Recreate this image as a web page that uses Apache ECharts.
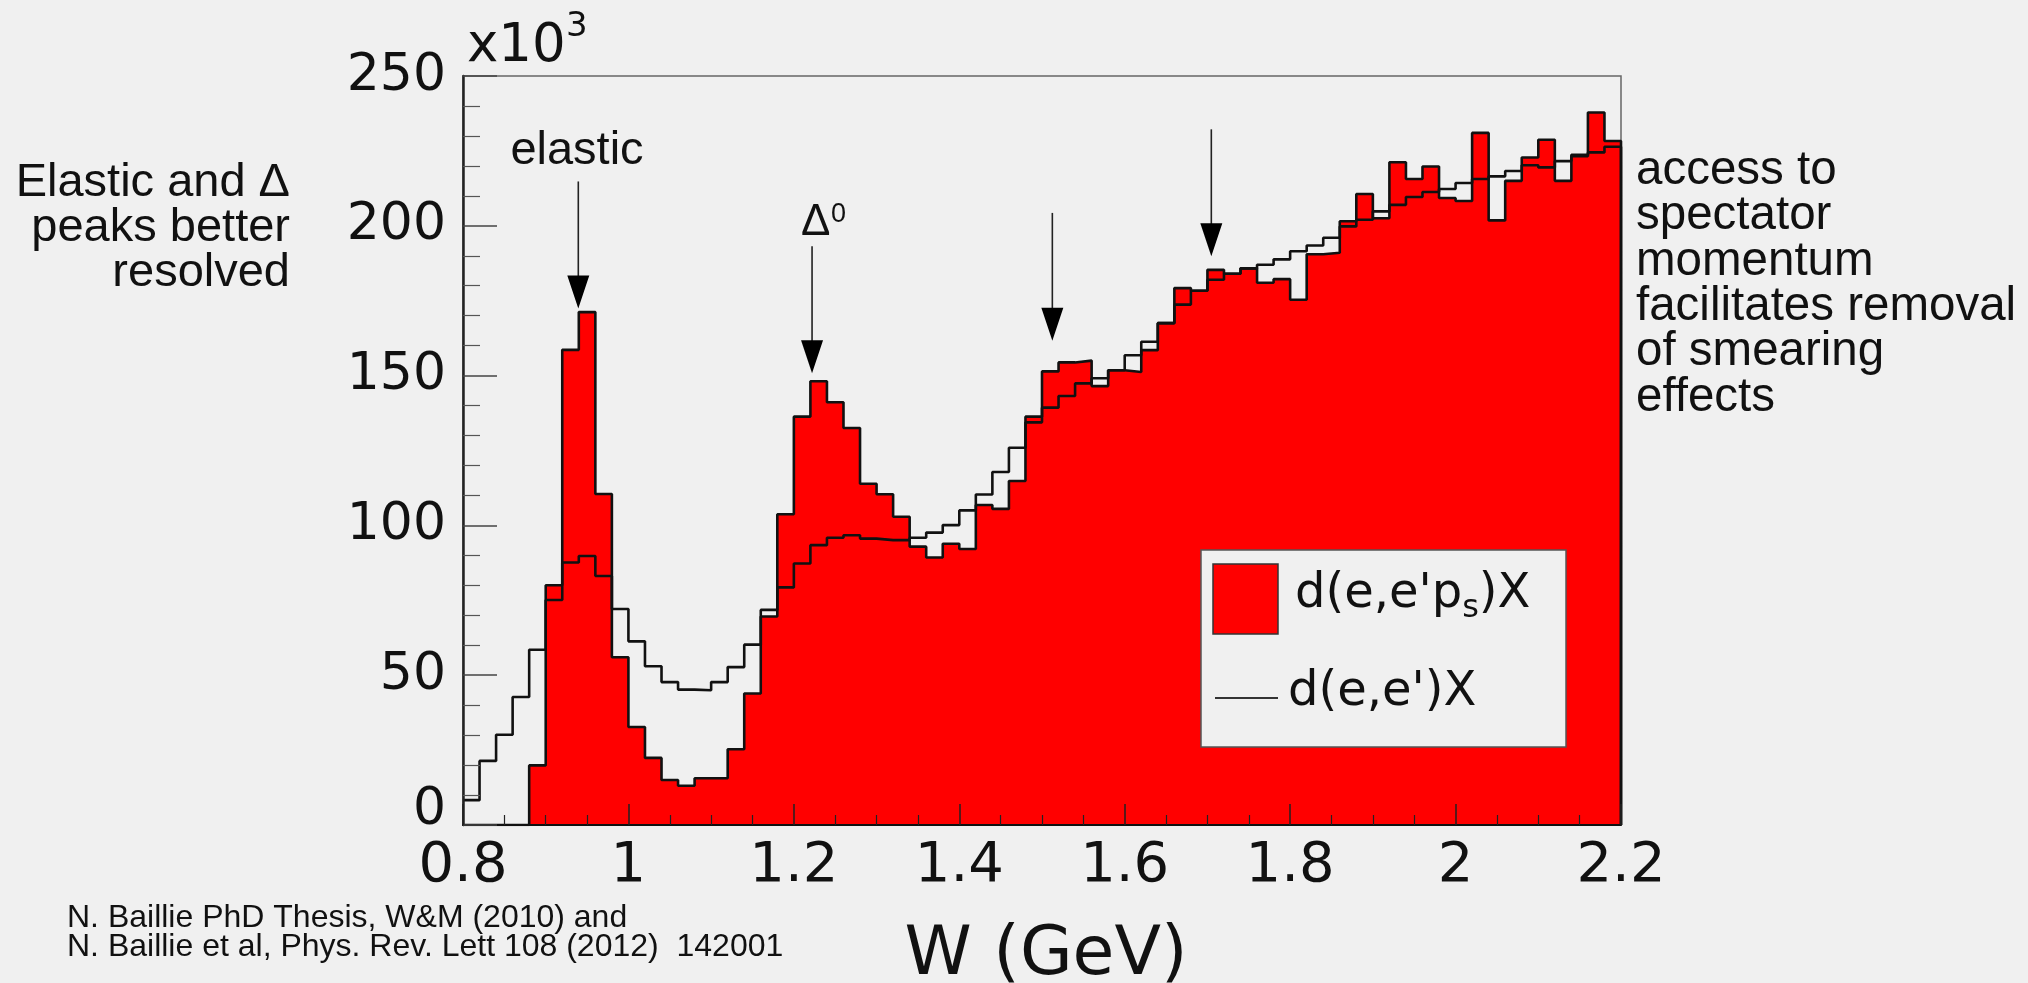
<!DOCTYPE html>
<html>
<head>
<meta charset="utf-8">
<title>W spectrum, d(e,e'ps)X vs d(e,e')X</title>
<script src="https://cdn.jsdelivr.net/npm/echarts@6/dist/echarts.min.js"></script>
<style>
    html, body { margin: 0; padding: 0; background: #f0f0f0; }
    #chart { width: 2028px; height: 983px; }
</style>
</head>
<body>
<div id="chart"></div>
<script>
    // low edge of every W bin (GeV), bins are 0.02 wide
    const wLow = [
        0.80, 0.82, 0.84, 0.86, 0.88, 0.90, 0.92, 0.94, 0.96, 0.98,
        1.00, 1.02, 1.04, 1.06, 1.08, 1.10, 1.12, 1.14, 1.16, 1.18,
        1.20, 1.22, 1.24, 1.26, 1.28, 1.30, 1.32, 1.34, 1.36, 1.38,
        1.40, 1.42, 1.44, 1.46, 1.48, 1.50, 1.52, 1.54, 1.56, 1.58,
        1.60, 1.62, 1.64, 1.66, 1.68, 1.70, 1.72, 1.74, 1.76, 1.78,
        1.80, 1.82, 1.84, 1.86, 1.88, 1.90, 1.92, 1.94, 1.96, 1.98,
        2.00, 2.02, 2.04, 2.06, 2.08, 2.10, 2.12, 2.14, 2.16, 2.18
    ]
    const W_MAX = 2.2

    // d(e,e'p_s)X, counts in units of 10^3 (red histogram)
    const tagged = [
        0, 0, 0, 0, 19.9, 80, 158.6, 171.2, 110.5, 56,
        32.7, 22.4, 15, 13.1, 15.6, 15.6, 25.3, 43.9, 69.6, 103.7,
        136.3, 148.1, 141.1, 132.5, 113.9, 110.4, 102.9, 92.9, 89.3, 93.9,
        92.1, 106.8, 105.5, 114.8, 136.3, 151.4, 154.4, 155, 146.5, 151.8,
        151.2, 158.5, 167.5, 179.2, 178.3, 185.3, 184, 185.8, 181, 182.2,
        175.3, 190.5, 191, 201.5, 210.6, 202.5, 221.2, 215.6, 219.8, 209.3,
        208.3, 231, 201.8, 215, 222.8, 228.7, 215, 223.2, 237.8, 228.3
    ]

    // d(e,e')X, counts in units of 10^3 (black line)
    const inclusive = [
        8.3, 21.4, 30.1, 42.7, 58.5, 75.1, 87.6, 89.8, 83.1, 72.1,
        61.3, 53, 47.7, 45.2, 45, 47.7, 52.7, 60.2, 71.8, 79.3,
        87.3, 93.4, 95.9, 96.7, 95.6, 95.1, 95.1, 95.9, 97.6, 100.1,
        105, 110.3, 117.8, 125.9, 134.4, 139.3, 143.2, 147.4, 149.1, 151.8,
        156.8, 161.3, 167.5, 173.7, 178.3, 182, 184, 185.8, 187, 188.8,
        191.5, 193.4, 196, 199.8, 202, 204.8, 207, 209.6, 211.3, 212.3,
        214.3, 215.6, 216.5, 218.3, 220.2, 219.5, 221.6, 223.7, 224.5, 226.4
    ]

    // arrows: W position, top of the shaft and tip (10^3 counts)
    const arrowW = [0.9394, 1.222, 1.5125, 1.7047]
    const arrowTop = [214.8, 193.2, 204.3, 232.2]
    const arrowTip = [172.4, 150.8, 161.6, 189.8]

    const leftNote = ['Elastic and \u0394', 'peaks better', 'resolved']
    const rightNote = ['access to', 'spectator', 'momentum', 'facilitates removal', 'of smearing', 'effects']
    const citation = [
        'N. Baillie PhD Thesis, W&M (2010) and',
        'N. Baillie et al, Phys. Rev. Lett 108 (2012)  142001'
    ]

    const SANS = '"DejaVu Sans", sans-serif'
    const ARIAL = '"Liberation Sans", Arial, sans-serif'

    // step histogram: one point per low edge, then closing at W_MAX down to 0
    function histPoints (values) {
        const pts = wLow.map((w, i) => [w, values[i]])
        pts.push([W_MAX, values[values.length - 1]])
        pts.push([W_MAX, 0])
        return pts
    }

    const measureCtx = document.createElement('canvas').getContext('2d')
    function textWidth (txt, font) {
        measureCtx.font = font
        return measureCtx.measureText(txt).width
    }

    const chart = echarts.init(document.getElementById('chart'))

    chart.setOption({
        animation: false,
        backgroundColor: '#f0f0f0',
        grid: {
            left: 463,
            right: 407,
            top: 76,
            bottom: 158,
            show: true,
            borderColor: '#666',
            borderWidth: 1.5,
            backgroundColor: 'transparent',
            containLabel: false,
            outerBoundsMode: 'none'
        },
        xAxis: {
            type: 'value',
            min: 0.8,
            max: 2.2,
            interval: 0.2,
            z: 5,
            axisLine: { show: true, lineStyle: { color: '#111', width: 2 } },
            axisTick: { show: true, inside: true, length: 21, lineStyle: { color: '#222', width: 1.5 } },
            minorTick: { show: true, splitNumber: 4, length: 10, lineStyle: { color: '#222', width: 1.2 } },
            splitLine: { show: false },
            axisLabel: {
                margin: 13,
                color: '#111',
                fontFamily: SANS,
                fontSize: 56,
                formatter: v => String(Math.round(v * 10) / 10)
            }
        },
        yAxis: {
            type: 'value',
            min: 0,
            max: 250,
            interval: 50,
            z: 5,
            axisLine: { show: true, lineStyle: { color: '#222', width: 2.5 } },
            axisTick: { show: true, inside: true, length: 34, lineStyle: { color: '#444', width: 1.5 } },
            minorTick: { show: true, splitNumber: 5, length: 17, lineStyle: { color: '#555', width: 1.2 } },
            splitLine: { show: false },
            axisLabel: {
                margin: 17,
                color: '#111',
                fontFamily: SANS,
                fontSize: 52,
                formatter: v => v === 0 ? '{z|0}' : String(v),
                rich: {
                    z: { fontFamily: SANS, fontSize: 52, color: '#111', padding: [0, 0, 30, 0] }
                }
            }
        },
        series: [
            {
                name: "d(e,e'ps)X",
                type: 'line',
                step: 'end',
                symbol: 'none',
                data: histPoints(tagged),
                lineStyle: { color: '#111', width: 2.6 },
                areaStyle: { color: '#ff0000', opacity: 1 },
                z: 2
            },
            {
                name: "d(e,e')X",
                type: 'line',
                step: 'end',
                symbol: 'none',
                data: histPoints(inclusive),
                lineStyle: { color: '#111', width: 2.6 },
                z: 3
            }
        ]
    })

    // annotations, placed after the axes exist
    const graphics = []
    function addText (txt, x, y, font, align) {
        graphics.push({
            type: 'text',
            z: 100,
            style: {
                text: txt, x: x, y: y, font: font, fill: '#111',
                textAlign: align, align: align,
                textVerticalAlign: 'middle', verticalAlign: 'middle'
            }
        })
    }

    for (let i = 0; i < arrowW.length; i++) {
        const top = chart.convertToPixel({ gridIndex: 0 }, [arrowW[i], arrowTop[i]])
        const tip = chart.convertToPixel({ gridIndex: 0 }, [arrowW[i], arrowTip[i]])
        graphics.push({
            type: 'line', z: 100,
            shape: { x1: top[0], y1: top[1], x2: tip[0], y2: tip[1] - 30 },
            style: { stroke: '#222', lineWidth: 1.6 }
        })
        graphics.push({
            type: 'polygon', z: 100,
            shape: { points: [[tip[0] - 11, tip[1] - 33], [tip[0] + 11, tip[1] - 33], [tip[0], tip[1]]] },
            style: { fill: '#000' }
        })
    }

    // "elastic" above the first arrow, "Δ0" above the second
    addText('elastic', 577, 151, '47px ' + ARIAL, 'center')
    addText('\u0394', 801, 223, '44px ' + ARIAL, 'left')
    addText('0', 831, 215, '27px ' + ARIAL, 'left')

    // x10^3 factor
    addText('x10', 467, 47, '53px ' + SANS, 'left')
    addText('3', 566, 27, '34px ' + SANS, 'left')

    // axis title
    addText('W (GeV)', 1046, 956, '68px ' + SANS, 'center')

    leftNote.forEach((t, i) => addText(t, 290, 183 + i * 45, '47px ' + ARIAL, 'right'))
    rightNote.forEach((t, i) => addText(t, 1636, 171 + i * 45.3, '47.5px ' + ARIAL, 'left'))
    citation.forEach((t, i) => addText(t, 67, 918 + i * 29.5, '32px ' + ARIAL, 'left'))

    // legend box
    graphics.push({
        type: 'rect', z: 100,
        shape: { x: 1201, y: 550, width: 365, height: 197 },
        style: { fill: '#f0f0f0', stroke: '#555', lineWidth: 1.5 }
    })
    graphics.push({
        type: 'rect', z: 101,
        shape: { x: 1213, y: 564, width: 65, height: 70 },
        style: { fill: '#ff0000', stroke: '#333', lineWidth: 1.5 }
    })
    graphics.push({
        type: 'line', z: 101,
        shape: { x1: 1215, y1: 698, x2: 1278, y2: 698 },
        style: { stroke: '#333', lineWidth: 2 }
    })
    const LEG_FONT = '48px ' + SANS
    const SUB_FONT = '32px ' + SANS
    const part1 = "d(e,e'p"
    const x1 = 1295
    const xs = x1 + textWidth(part1, LEG_FONT)
    addText(part1, x1, 595, LEG_FONT, 'left')
    addText('s', xs, 609, SUB_FONT, 'left')
    addText(')X', xs + textWidth('s', SUB_FONT), 595, LEG_FONT, 'left')
    addText("d(e,e')X", 1288, 693, LEG_FONT, 'left')

    chart.setOption({ graphic: graphics })
</script>
</body>
</html>
